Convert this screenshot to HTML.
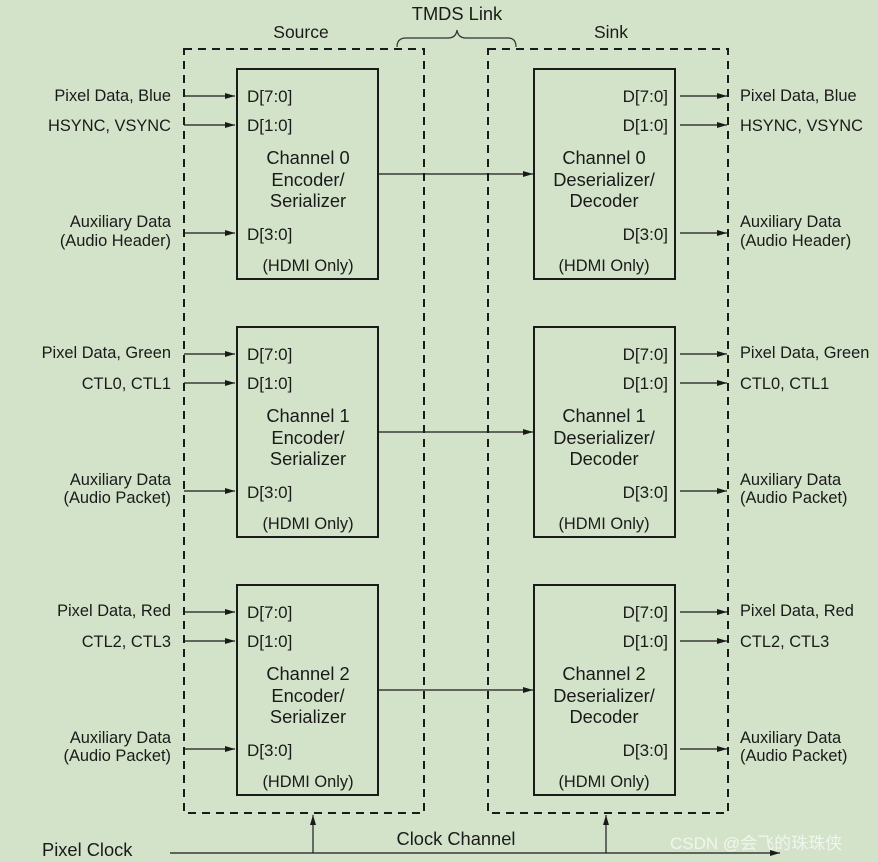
<!DOCTYPE html>
<html><head><meta charset="utf-8"><style>
html,body{margin:0;padding:0;background:#d3e3c9;}
svg{display:block;}
text{font-family:"Liberation Sans","Noto Sans CJK SC",sans-serif;font-size:16.4px;fill:#1a1a1a;}
.d{font-size:17px;}
.c{font-size:18.3px;}
</style></head><body>
<svg width="878" height="862" viewBox="0 0 878 862" xmlns="http://www.w3.org/2000/svg">
<defs>
<marker id="a" markerWidth="11" markerHeight="8" refX="10" refY="4" orient="auto" markerUnits="userSpaceOnUse">
<path d="M0,1 L10,4 L0,7 Z" fill="#1a1a1a"/></marker>
<g id="ch">
<rect x="237" y="69" width="141" height="210" fill="none" stroke="#1a1a1a" stroke-width="2"/>
<rect x="534" y="69" width="141" height="210" fill="none" stroke="#1a1a1a" stroke-width="2"/>
<line x1="184" y1="96" x2="235" y2="96" stroke="#1a1a1a" stroke-width="1.2" marker-end="url(#a)"/>
<line x1="184" y1="125" x2="235" y2="125" stroke="#1a1a1a" stroke-width="1.2" marker-end="url(#a)"/>
<line x1="184" y1="233" x2="235" y2="233" stroke="#1a1a1a" stroke-width="1.2" marker-end="url(#a)"/>
<line x1="680" y1="96" x2="727" y2="96" stroke="#1a1a1a" stroke-width="1.2" marker-end="url(#a)"/>
<line x1="680" y1="125" x2="727" y2="125" stroke="#1a1a1a" stroke-width="1.2" marker-end="url(#a)"/>
<line x1="680" y1="233" x2="727" y2="233" stroke="#1a1a1a" stroke-width="1.2" marker-end="url(#a)"/>
<line x1="378" y1="174" x2="533" y2="174" stroke="#1a1a1a" stroke-width="1.2" marker-end="url(#a)"/>
<text class="d" x="247" y="102">D[7:0]</text>
<text class="d" x="247" y="131">D[1:0]</text>
<text class="d" x="247" y="240">D[3:0]</text>
<text x="308" y="271" text-anchor="middle">(HDMI Only)</text>
<text class="d" x="668" y="102" text-anchor="end">D[7:0]</text>
<text class="d" x="668" y="131" text-anchor="end">D[1:0]</text>
<text class="d" x="668" y="240" text-anchor="end">D[3:0]</text>
<text x="604" y="271" text-anchor="middle">(HDMI Only)</text>
</g>
</defs>
<rect x="184" y="49" width="240" height="764" fill="none" stroke="#1a1a1a" stroke-width="2" stroke-dasharray="8,6"/>
<rect x="488" y="49" width="240" height="764" fill="none" stroke="#1a1a1a" stroke-width="2" stroke-dasharray="8,6"/>
<text x="301" y="38" text-anchor="middle" style="font-size:17.5px">Source</text>
<text x="611" y="38" text-anchor="middle" style="font-size:17.5px">Sink</text>
<text x="457" y="20" text-anchor="middle" class="c">TMDS Link</text>
<path d="M397,47 Q397,38 406,38 L448,38 Q456,38 457,30 Q458,38 466,38 L508,38 Q516,38 516,47" fill="none" stroke="#333" stroke-width="1.2"/>

<use href="#ch"/>
<use href="#ch" y="258"/>
<use href="#ch" y="516"/>

<text class="c" x="308" y="164" text-anchor="middle">Channel 0</text>
<text class="c" x="308" y="186" text-anchor="middle">Encoder/</text>
<text class="c" x="308" y="207" text-anchor="middle">Serializer</text>
<text class="c" x="604" y="164" text-anchor="middle">Channel 0</text>
<text class="c" x="604" y="186" text-anchor="middle">Deserializer/</text>
<text class="c" x="604" y="207" text-anchor="middle">Decoder</text>
<text x="171" y="101" text-anchor="end">Pixel Data, Blue</text>
<text x="171" y="131" text-anchor="end">HSYNC, VSYNC</text>
<text x="171" y="227" text-anchor="end">Auxiliary Data</text>
<text x="171" y="246" text-anchor="end">(Audio Header)</text>
<text x="740" y="101">Pixel Data, Blue</text>
<text x="740" y="131">HSYNC, VSYNC</text>
<text x="740" y="227">Auxiliary Data</text>
<text x="740" y="246">(Audio Header)</text>

<text class="c" x="308" y="422" text-anchor="middle">Channel 1</text>
<text class="c" x="308" y="444" text-anchor="middle">Encoder/</text>
<text class="c" x="308" y="465" text-anchor="middle">Serializer</text>
<text class="c" x="604" y="422" text-anchor="middle">Channel 1</text>
<text class="c" x="604" y="444" text-anchor="middle">Deserializer/</text>
<text class="c" x="604" y="465" text-anchor="middle">Decoder</text>
<text x="171" y="358" text-anchor="end">Pixel Data, Green</text>
<text x="171" y="389" text-anchor="end">CTL0, CTL1</text>
<text x="171" y="485" text-anchor="end">Auxiliary Data</text>
<text x="171" y="503" text-anchor="end">(Audio Packet)</text>
<text x="740" y="358">Pixel Data, Green</text>
<text x="740" y="389">CTL0, CTL1</text>
<text x="740" y="485">Auxiliary Data</text>
<text x="740" y="503">(Audio Packet)</text>

<text class="c" x="308" y="680" text-anchor="middle">Channel 2</text>
<text class="c" x="308" y="702" text-anchor="middle">Encoder/</text>
<text class="c" x="308" y="723" text-anchor="middle">Serializer</text>
<text class="c" x="604" y="680" text-anchor="middle">Channel 2</text>
<text class="c" x="604" y="702" text-anchor="middle">Deserializer/</text>
<text class="c" x="604" y="723" text-anchor="middle">Decoder</text>
<text x="171" y="616" text-anchor="end">Pixel Data, Red</text>
<text x="171" y="647" text-anchor="end">CTL2, CTL3</text>
<text x="171" y="743" text-anchor="end">Auxiliary Data</text>
<text x="171" y="761" text-anchor="end">(Audio Packet)</text>
<text x="740" y="616">Pixel Data, Red</text>
<text x="740" y="647">CTL2, CTL3</text>
<text x="740" y="743">Auxiliary Data</text>
<text x="740" y="761">(Audio Packet)</text>

<line x1="170" y1="853" x2="780" y2="853" stroke="#1a1a1a" stroke-width="1.2" marker-end="url(#a)"/>
<line x1="313" y1="853" x2="313" y2="815" stroke="#1a1a1a" stroke-width="1.2" marker-end="url(#a)"/>
<line x1="606" y1="853" x2="606" y2="815" stroke="#1a1a1a" stroke-width="1.2" marker-end="url(#a)"/>
<text class="c" x="456" y="845" text-anchor="middle">Clock Channel</text>
<text class="c" x="42" y="856">Pixel Clock</text>
<text x="670" y="849" style="font-size:17px;fill:#f4f8f1;opacity:0.9">CSDN @会飞的珠珠侠</text>
</svg>
</body></html>
